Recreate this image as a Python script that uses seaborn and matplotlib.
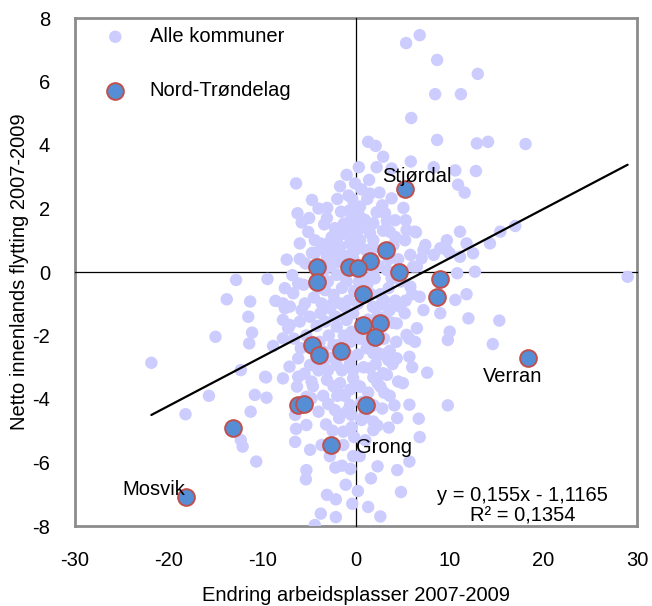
import numpy as np
import pandas as pd
import seaborn as sns
import matplotlib
matplotlib.use("Agg")
import matplotlib.pyplot as plt

# Alle kommuner, lest av figuren (x = endring arbeidsplasser, y = netto flytting)
alle_ovre = [
    (6.8, 7.46), (5.35, 7.21), (8.66, 6.68), (13.0, 6.24), (8.45, 5.6), (11.2, 5.6),
    (5.9, 4.85), (8.66, 4.16), (14.1, 4.1), (18.1, 4.03), (12.9, 4.05), (1.3, 4.1),
    (2.1, 3.97), (2.9, 3.63), (3.8, 3.26), (5.85, 3.48), (8.3, 3.3), (10.6, 3.2),
    (12.8, 3.18), (10.9, 2.75), (11.6, 2.5), (0.3, 3.3), (1.4, 2.9), (2.2, 3.3),
    (0.6, 2.6), (2.5, 2.5),
]
alle_ovre_venstre = [
    (-1.0, 3.06), (-6.4, 2.79), (-0.1, 2.79), (-0.8, 2.41), (-4.7, 2.27), (-3.07, 2.02),
    (-6.25, 1.85), (-3.1, 1.7), (-0.64, 1.95), (-5.8, 1.56), (-2.25, 1.38), (-1.3, 1.52),
    (-5.1, 1.26), (-4.4, 1.0), (-2.06, 1.0), (-0.64, 1.22), (-1.7, 0.8), (-0.46, 1.11),
    (-0.46, 1.69), (-7.4, 0.39), (-6.0, 0.41), (-5.4, 0.27), (-3.1, 0.48), (-2.8, 0.17),
    (-0.1, 0.69), (-0.3, 0.43), (-4.4, 0.59), (-3.3, 0.69), (-2.25, 0.64), (-0.64, 0.54),
    (-3.5, 0.01), (-2.06, -0.09), (-1.0, -0.3), (-1.6, 1.9), (-2.0, 2.3), (-0.4, 2.3),
    (-1.7, 2.7), (-3.4, 1.5), (-4.0, 2.0), (-5.0, 1.7), (-6.0, 0.9), (-3.8, 0.9),
    (-2.6, 1.1), (-1.2, 0.5), (-0.5, 0.2), (-2.0, 0.3), (-4.7, 0.6), (-1.4, -0.1),
    (-6.8, -0.1), (-5.6, -0.4), (-3.0, -0.3),
]
alle_ovre_hoyre = [
    (1.5, 2.47), (3.8, 2.32), (5.06, 2.02), (0.43, 2.06), (2.2, 1.88), (3.1, 1.85),
    (0.96, 1.64), (4.17, 1.63), (5.3, 1.63), (1.85, 1.53), (-0.3, 1.53), (0.25, 1.32),
    (1.5, 1.22), (2.9, 1.3), (3.6, 1.27), (5.4, 1.32), (6.4, 1.25), (7.4, 0.85),
    (5.24, 1.0), (4.0, 0.85), (1.85, 1.0), (0.43, 1.0), (-0.64, 0.9), (1.85, 0.75),
    (5.8, 0.54), (7.0, 0.43), (6.1, 0.17), (3.3, 0.06), (1.85, -0.04), (9.7, 1.0),
    (9.0, 0.75), (11.1, 0.48), (10.0, 0.59), (8.3, 0.54), (9.7, 0.69), (12.5, 0.59),
    (7.2, 0.69), (6.5, 0.17), (15.4, 1.27), (17.0, 1.45), (14.3, 0.9), (11.1, 1.27),
    (6.3, 1.27), (11.8, 0.9), (10.8, -0.04), (12.7, 0.01), (29.0, -0.15), (3.3, 1.6),
    (4.5, 0.4), (3.5, 0.4), (2.4, 0.2), (1.0, 0.7), (0.9, 1.5),
]
alle_nedre_hoyre = [
    (5.8, -0.46), (6.8, -0.78), (7.2, -1.2), (9.0, -1.3), (10.6, -0.88), (11.8, -0.7),
    (12.0, -1.46), (15.3, -1.53), (10.0, -1.88), (9.8, -2.14), (14.6, -2.27), (6.5, -1.77),
    (5.4, -1.98), (4.35, -1.62), (3.6, -1.2), (4.7, -1.09), (2.6, -1.04), (1.14, -2.4),
    (2.4, -2.56), (3.6, -2.48), (4.35, -2.72), (5.7, -2.67), (1.5, -3.03), (2.9, -3.19),
    (4.5, -3.45), (7.6, -3.17), (3.3, -3.24), (2.6, -3.61), (1.85, -3.32), (0.43, -3.61),
    (3.45, -2.77), (1.85, -2.56), (9.8, -4.2), (5.7, -4.18), (4.1, -4.2), (6.7, -4.62),
    (6.8, -5.2), (5.7, -5.97), (4.4, -6.24), (2.3, -6.12), (4.8, -6.93), (2.6, -7.7),
    (0.6, -4.66), (1.85, -4.98), (2.3, -4.84), (1.85, -4.71), (0.3, -0.3), (1.2, -0.4),
    (2.0, -0.2), (2.6, -0.7), (1.8, -1.1), (0.2, -1.0), (3.5, -0.5), (4.2, -0.9),
    (1.3, -1.5), (3.2, -1.4), (0.4, -2.1), (1.2, -2.1), (3.0, -2.1), (4.3, -2.2),
    (0.2, -2.6), (0.8, -3.0), (2.1, -2.9), (3.9, -2.9), (0.3, -3.6), (1.3, -3.8),
    (3.0, -3.8), (0.9, -4.5), (2.8, -4.3), (3.5, -4.9), (1.0, -5.3), (0.4, -5.8),
    (1.6, -6.5), (0.2, -6.9), (1.3, -7.4), (5.0, -3.5), (6.0, -3.0), (6.3, -2.2),
    (5.2, -1.3), (6.0, -0.7), (4.8, -0.3),
]
alle_nedre_venstre = [
    (-12.8, -0.25), (-9.45, -0.22), (-13.8, -0.86), (-11.3, -0.93), (-8.6, -0.91),
    (-7.6, -0.51), (-11.5, -1.41), (-15.0, -2.04), (-11.1, -1.91), (-11.4, -2.25),
    (-8.85, -2.33), (-21.85, -2.86), (-12.3, -3.09), (-9.6, -3.32), (-15.7, -3.9),
    (-10.8, -3.87), (-9.55, -3.96), (-18.2, -4.48), (-11.25, -4.4), (-12.3, -5.29),
    (-12.1, -5.5), (-10.65, -5.97), (-7.8, -0.99), (-7.06, -1.09), (-7.8, -1.51),
    (-7.24, -1.77), (-7.8, -2.09), (-7.1, -2.98), (-6.3, -3.61), (-5.3, -3.93),
    (-6.5, -4.5), (-6.4, -4.94), (-5.3, -4.82), (-6.5, -5.35), (-4.9, -5.6),
    (-5.3, -6.24), (-5.35, -6.53), (-3.1, -7.02), (-2.15, -7.16), (-3.76, -7.61),
    (-2.15, -7.72), (-4.4, -7.97), (-2.2, -6.16), (-1.36, -5.45), (-3.67, -5.45),
    (-2.96, -4.16), (-2.25, -4.35), (-1.36, -5.03), (-0.46, -4.89), (-4.75, -3.98),
    (-1.5, -3.87), (-0.64, -4.19), (-6.17, -0.36), (-6.7, -0.67), (-7.6, -1.14),
    (-7.06, -1.67), (-6.0, -1.56), (-4.9, -1.41), (-5.45, -0.99), (-3.3, -0.57),
    (-2.4, -0.72), (-1.7, -0.99), (-2.8, -1.14), (-3.67, -0.99), (-3.3, -1.56),
    (-2.06, -1.72), (-1.0, -1.51), (-0.46, -1.88), (-6.17, -2.72), (-4.9, -2.93),
    (-3.5, -2.83), (-2.06, -2.93), (-0.64, -2.88), (-9.7, -3.3), (-7.8, -3.35),
    (-6.17, -3.3), (-4.75, -3.45), (-3.1, -3.4), (-1.7, -3.5), (-0.3, -3.35),
    (-4.5, -0.8), (-3.8, -1.3), (-2.5, -1.0), (-1.5, -0.5), (-0.8, -0.9), (-0.3, -1.3),
    (-2.9, -2.0), (-1.8, -2.3), (-0.6, -2.2), (-4.2, -1.7), (-5.3, -2.0), (-3.5, -2.5),
    (-0.9, -2.6), (-2.6, -2.7), (-5.5, -3.2), (-4.0, -3.1), (-2.4, -3.6), (-1.2, -3.9),
    (-0.3, -3.1), (-3.5, -3.9), (-4.6, -3.6), (-0.5, -4.5), (-1.8, -4.6), (-3.2, -4.8),
    (-2.5, -5.0), (-4.0, -4.4), (-0.2, -5.2), (-0.6, -6.2), (-1.1, -6.7), (-0.4, -7.3),
]
alle_kjerne = [
    (-2.2, -1.4), (-1.2, -1.1), (-0.2, -0.6), (0.9, -0.2), (1.6, -0.7), (2.3, -1.4),
    (3.0, -0.9), (3.9, -1.6), (1.0, -1.9), (2.0, -2.5), (2.9, -2.6), (-1.3, -2.0),
    (-2.4, -2.3), (-3.9, -2.2), (-4.5, -2.9), (-3.0, -3.1), (-1.5, -3.1), (-0.6, -3.7),
    (0.6, -4.1), (1.9, -4.2), (2.3, -3.5), (3.6, -3.9), (4.4, -4.6), (-1.0, -4.4),
    (-2.0, -3.9), (-3.8, -0.5), (-4.3, 0.2), (-3.0, 0.9), (-1.4, 1.2), (0.3, 1.8),
    (1.2, 2.3), (2.8, 2.1), (4.2, 1.1), (3.8, -0.2), (5.3, -0.9), (5.7, -2.1),
    (-0.3, -5.8), (-1.5, -6.1), (-2.8, -5.8), (-5.9, -2.4), (-6.6, -2.1), (-5.8, -1.2),
]

# Nord-Trøndelag
nt_x = [5.2, 3.2, 1.5, -0.7, 0.25, 4.6, 9.0, -4.2, -4.2, 0.7, 0.7, 2.6,
        2.0, -4.7, -4.0, -1.6, 8.6, 18.4, -6.2, -5.6, 1.1, -13.1, -2.7, -18.1]
nt_y = [2.6, 0.69, 0.36, 0.17, 0.12, 0.0, -0.22, 0.15, -0.32, -0.68, -1.67, -1.6,
        -2.06, -2.3, -2.6, -2.5, -0.78, -2.72, -4.19, -4.15, -4.2, -4.92, -5.45, -7.1]
nt_navn = ["Stjørdal", "", "", "", "", "", "", "", "", "", "", "",
           "", "", "", "", "", "Verran", "", "", "", "", "Grong", "Mosvik"]

trend_slope = 0.155
trend_intercept = -1.1165
trend_r2 = 0.1354

x_ticks = [-30, -20, -10, 0, 10, 20, 30]
y_ticks = [-8, -6, -4, -2, 0, 2, 4, 6, 8]

alle = pd.DataFrame(alle_ovre + alle_ovre_venstre + alle_ovre_hoyre + alle_nedre_hoyre +
                    alle_nedre_venstre + alle_kjerne, columns=["x", "y"])
nt = pd.DataFrame({"x": nt_x, "y": nt_y, "navn": nt_navn})

sns.set_style("white")
plt.rcParams["font.family"] = ["Liberation Sans", "DejaVu Sans"]
plt.rcParams["axes.unicode_minus"] = False
plt.rcParams["text.color"] = "black"
plt.rcParams["axes.labelcolor"] = "black"
fs = 14.5

fig = plt.figure(figsize=(6.52, 6.06), dpi=100)
pos = [75 / 652, 1 - 526 / 606, 562 / 652, 508 / 606]

# ramme og tall (under)
frame_ax = fig.add_axes(pos)
frame_ax.set_zorder(1)
frame_ax.set_facecolor("white")
for s in frame_ax.spines.values():
    s.set_color("#8c8c8c")
    s.set_linewidth(2)
frame_ax.set_xlim(-30, 30)
frame_ax.set_ylim(-8, 8)
frame_ax.set_xticks(x_ticks)
frame_ax.set_yticks(y_ticks)
frame_ax.tick_params(length=0, pad=18, labelsize=fs, colors="black")
frame_ax.set_xlabel("Endring arbeidsplasser 2007-2009", fontsize=fs)
frame_ax.set_ylabel("Netto innenlands flytting 2007-2009", fontsize=fs)
frame_ax.xaxis.set_label_coords(0.5, -0.118)
frame_ax.yaxis.set_label_coords(-0.082, 0.5)

# punkter og nullakser (over)
ax = fig.add_axes(pos, sharex=frame_ax, sharey=frame_ax)
ax.set_zorder(2)
ax.patch.set_alpha(0)
ax.spines["top"].set_visible(False)
ax.spines["right"].set_visible(False)
for side in ["left", "bottom"]:
    ax.spines[side].set_position(("data", 0))
    ax.spines[side].set_color("black")
    ax.spines[side].set_linewidth(0.9)
    ax.spines[side].set_zorder(0.5)
ax.set_axisbelow(True)
ax.tick_params(direction="out", length=5, width=0.9, color="black",
               labelbottom=False, labelleft=False)

sns.scatterplot(data=alle, x="x", y="y", ax=ax, color="#CCCCFF", s=80,
                edgecolor="none", linewidth=0, label="Alle kommuner")
sns.scatterplot(data=nt, x="x", y="y", ax=ax, color="#558ED5", s=145,
                edgecolor="#C0504D", linewidth=1.4, label="Nord-Trøndelag")

# trendlinje
all_x = pd.concat([alle["x"], nt["x"]])
line_x = np.array([all_x.min(), all_x.max()])
sns.lineplot(x=line_x, y=trend_slope * line_x + trend_intercept, ax=ax,
             color="black", linewidth=1.6, legend=False)

# navn
offsets = {"Stjørdal": (-16, 9), "Verran": (-11, -13), "Grong": (18, -2), "Mosvik": (-1, 6)}
aligns = {"Stjørdal": "left", "Verran": "center", "Grong": "left", "Mosvik": "right"}
for _, r in nt[nt["navn"] != ""].iterrows():
    ax.annotate(r["navn"], (r["x"], r["y"]), xytext=offsets[r["navn"]],
                textcoords="offset points", ha=aligns[r["navn"]], va="center", fontsize=fs)

eq = f"y = {trend_slope:.3f}x - {abs(trend_intercept):.4f}".replace(".", ",")
r2 = f"R² = {trend_r2:.4f}".replace(".", ",")
ax.text(0.797, 0.04, eq + "\n" + r2, transform=ax.transAxes, ha="center",
        va="center", fontsize=fs, linespacing=1.1)

ax.set_xlabel("")
ax.set_ylabel("")
ax.legend(loc="upper left", frameon=False, fontsize=fs, labelspacing=1.75,
          handlelength=3.1, handletextpad=0.15, borderaxespad=0.1, borderpad=0.35)

fig.savefig("out.png", dpi=100, facecolor="white")
